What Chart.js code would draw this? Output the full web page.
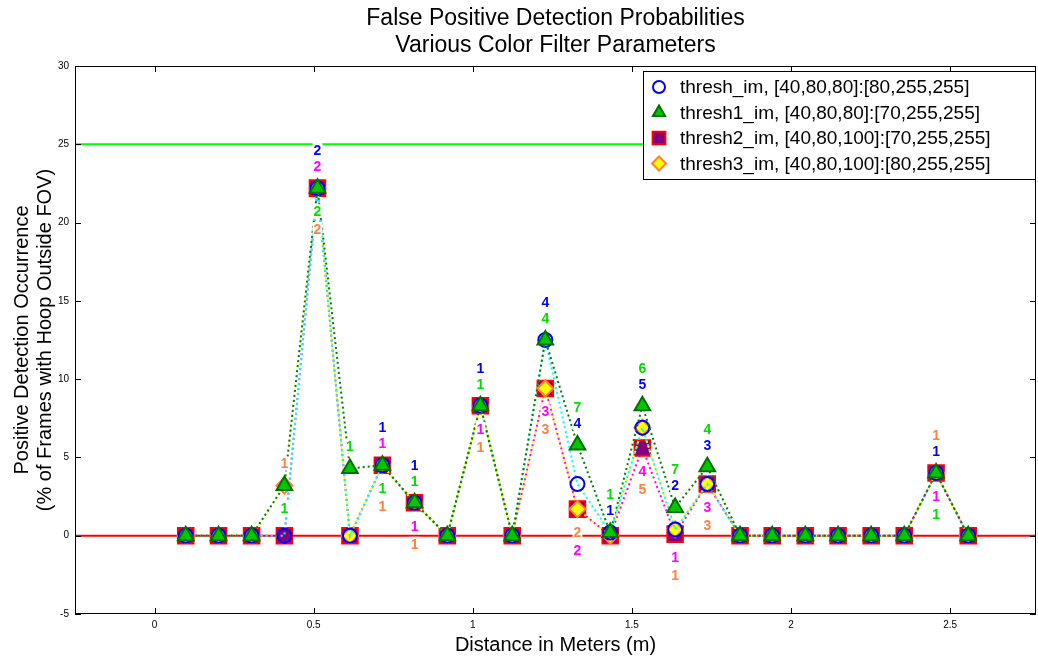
<!DOCTYPE html>
<html>
<head>
<meta charset="utf-8">
<script src="https://cdn.jsdelivr.net/npm/chart.js@4/dist/chart.umd.min.js"></script>
<style>
html,body{margin:0;padding:0;background:#fff;overflow:hidden}
#wrap{width:1038px;height:658px;position:relative}
#c{display:block}
</style>
</head>
<body>
<div id="wrap"><canvas id="c"></canvas></div>
<script>
// test positions (m)
distances = [0.098,0.201,0.305,0.408,0.512,0.614,0.716,0.817,0.920,1.024,1.124,1.228,1.329,1.432,1.533,1.636,1.737,1.840,1.941,2.045,2.148,2.252,2.356,2.456,2.557];

// % of frames with a false detection, one list per filter
threshIm  = [0,0,0,0,22.2,0,4.5,2.1,0,8.3,0,12.5,3.3,0.2,6.9,0.4,3.3,0,0,0,0,0,0,4.0,0];
thresh1Im = [0,0,0,3.2,22.2,4.3,4.5,2.1,0,8.3,0,12.5,5.8,0.2,8.3,1.8,4.4,0,0,0,0,0,0,4.0,0];
thresh2Im = [0,0,0,0,22.2,0,4.5,2.1,0,8.3,0,9.4,1.7,0,5.6,0.1,3.3,0,0,0,0,0,0,4.0,0];
thresh3Im = [0,0,0,3.2,22.2,0,4.5,2.1,0,8.3,0,9.4,1.7,0,6.9,0.4,3.3,0,0,0,0,0,0,4.0,0];

// frame counts written next to the markers (null = none)
N = null;
countIm  = [N,N,N,N,2,N,1,1,N,1,N,4,4,1,5,2,3,N,N,N,N,N,N,1,N];
count1Im = [N,N,N,1,2,1,1,1,N,1,N,4,7,1,6,7,4,N,N,N,N,N,N,1,N];
count2Im = [N,N,N,N,2,N,1,1,N,1,N,3,2,N,4,1,3,N,N,N,N,N,N,1,N];
count3Im = [N,N,N,1,2,N,1,1,N,1,N,3,2,N,5,1,3,N,N,N,N,N,N,1,N];

// where each count goes: -2/-1 above the highest marker, 1/2 below the lowest
slotIm  = [0,0,0,0,-2,0,-2,-2,0,-2,0,-2,-1,-1,-1,-1,-1,0,0,0,0,0,0,-1,0];
slot1Im = [0,0,0,1,1,-1,1,-1,0,-1,0,-1,-2,-2,-2,-2,-2,0,0,0,0,0,0,2,0];
slot2Im = [0,0,0,0,-1,0,-1,1,0,1,0,1,2,0,1,1,1,0,0,0,0,0,0,1,0];
slot3Im = [0,0,0,-1,2,0,2,2,0,2,0,2,1,0,2,2,2,0,0,0,0,0,0,-2,0];

seriesNames = [
  'thresh_im, [40,80,80]:[80,255,255]',
  'thresh1_im, [40,80,80]:[70,255,255]',
  'thresh2_im, [40,80,100]:[70,255,255]',
  'thresh3_im, [40,80,100]:[80,255,255]'
];
titleLines = ['False Positive Detection Probabilities', 'Various Color Filter Parameters'];
refLevels = [25, 0];

var FONT = '"Liberation Sans", Arial, Helvetica, sans-serif';
var NARROW = '"Liberation Sans Narrow", "Liberation Sans", Arial, sans-serif';

var values = [threshIm, thresh1Im, thresh2Im, thresh3Im];
var counts = [countIm, count1Im, count2Im, count3Im];
var slots = [slotIm, slot1Im, slot2Im, slot3Im];
var countColors = ['#0000ff', '#00dd00', '#ff00ff', '#ff8040'];
var refColors = ['#00ff00', '#ff0000'];

var styles = [
  {line: '#00ffff', pointStyle: 'circle', radius: 7, fill: 'rgba(0,0,0,0)', edge: '#0000ff', order: 1},
  {line: '#008000', pointStyle: 'triangle', radius: 9, fill: '#00c800', edge: '#007000', order: 0},
  {line: '#ff00ff', pointStyle: 'rect', radius: 11, fill: '#800080', edge: '#ff0000', order: 3},
  {line: '#ffff00', pointStyle: 'rectRot', radius: 8, fill: '#ffff00', edge: '#ff8030', order: 2}
];

function pts(vals) {
  return distances.map(function (d, i) { return {x: d, y: vals[i]}; });
}

var datasets = values.map(function (v, k) {
  var s = styles[k];
  return {
    label: seriesNames[k],
    data: pts(v),
    showLine: true,
    borderColor: s.line,
    borderWidth: 2,
    borderDash: [2, 3],
    pointStyle: s.pointStyle,
    pointRadius: s.radius,
    pointHoverRadius: s.radius,
    pointBackgroundColor: s.fill,
    pointBorderColor: s.edge,
    pointBorderWidth: 2,
    order: s.order
  };
});

function marker(ctx, k, x, y, r) {
  var s = styles[k];
  ctx.save();
  ctx.fillStyle = s.fill;
  ctx.strokeStyle = s.edge;
  ctx.lineWidth = 2;
  Chart.helpers.drawPoint(ctx, {pointStyle: s.pointStyle, radius: r, borderWidth: 2, rotation: 0}, x, y);
  ctx.restore();
}

var extras = {
  id: 'extras',
  beforeDatasetsDraw: function (chart) {
    var ctx = chart.ctx, a = chart.chartArea, y = chart.scales.y;
    ctx.save();
    ctx.lineWidth = 2;
    refLevels.forEach(function (v, k) {
      var py = y.getPixelForValue(v);
      ctx.strokeStyle = refColors[k];
      ctx.beginPath();
      ctx.moveTo(a.left, py);
      ctx.lineTo(a.right, py);
      ctx.stroke();
    });
    ctx.restore();
  },
  afterDatasetsDraw: function (chart) {
    var ctx = chart.ctx, x = chart.scales.x, y = chart.scales.y;
    var off = {'-2': -38, '-1': -22, '1': 23, '2': 41};
    ctx.save();
    ctx.font = 'bold 14px ' + FONT;
    ctx.textAlign = 'center';
    ctx.textBaseline = 'middle';
    distances.forEach(function (d, i) {
      var ks = [0, 1, 2, 3].filter(function (k) { return counts[k][i] !== null; });
      if (!ks.length) return;
      var top = Math.max.apply(null, ks.map(function (k) { return values[k][i]; }));
      var bot = Math.min.apply(null, ks.map(function (k) { return values[k][i]; }));
      var px = x.getPixelForValue(d);
      ks.forEach(function (k) {
        var s = slots[k][i];
        var py = (s < 0 ? y.getPixelForValue(top) : y.getPixelForValue(bot)) + off[s];
        var t = String(counts[k][i]);
        var w = ctx.measureText(t).width;
        ctx.fillStyle = '#fff';
        ctx.fillRect(px - w / 2 - 1, py - 7, w + 2, 14);
        ctx.fillStyle = countColors[k];
        ctx.fillText(t, px, py + 1);
      });
    });
    ctx.restore();
  },
  afterDraw: function (chart) {
    var ctx = chart.ctx, a = chart.chartArea, x = chart.scales.x, y = chart.scales.y;
    ctx.save();
    // title, centred over the axes
    ctx.fillStyle = '#000';
    ctx.font = '23px ' + FONT;
    ctx.textAlign = 'center';
    ctx.textBaseline = 'middle';
    titleLines.forEach(function (t, i) {
      ctx.fillText(t, (a.left + a.right) / 2, 19 + i * 27);
    });

    // axes box with inward ticks
    ctx.strokeStyle = '#000';
    ctx.lineWidth = 1;
    ctx.strokeRect(a.left + 0.5, a.top + 0.5, a.right - a.left - 1, a.bottom - a.top - 1);
    ctx.beginPath();
    x.ticks.forEach(function (t) {
      var px = Math.round(x.getPixelForValue(t.value)) + 0.5;
      ctx.moveTo(px, a.bottom); ctx.lineTo(px, a.bottom - 6);
      ctx.moveTo(px, a.top); ctx.lineTo(px, a.top + 6);
    });
    y.ticks.forEach(function (t) {
      var py = Math.round(y.getPixelForValue(t.value)) + 0.5;
      ctx.moveTo(a.left, py); ctx.lineTo(a.left + 6, py);
      ctx.moveTo(a.right, py); ctx.lineTo(a.right - 6, py);
    });
    ctx.stroke();

    // legend
    var lw = 392, lh = 108;
    var lx = a.right - lw - 1, ly = a.top + 5;
    ctx.fillStyle = '#fff';
    ctx.fillRect(lx, ly, lw, lh);
    ctx.strokeStyle = '#000';
    ctx.strokeRect(lx + 0.5, ly + 0.5, lw, lh);
    ctx.font = '19px ' + FONT;
    ctx.textAlign = 'left';
    ctx.textBaseline = 'middle';
    var legR = [6, 7, 9, 7];
    seriesNames.forEach(function (name, k) {
      var ry = ly + 16 + k * 25.5;
      marker(ctx, k, lx + 16, ry, legR[k]);
      ctx.fillStyle = '#000';
      ctx.fillText(name, lx + 37, ry + 1);
    });
    ctx.restore();
  }
};

new Chart(document.getElementById('c'), {
  type: 'scatter',
  data: {datasets: datasets},
  plugins: [extras],
  options: {
    responsive: true,
    maintainAspectRatio: false,
    animation: false,
    layout: {autoPadding: false, padding: {left: 0, right: 2, top: 66, bottom: 0}},
    plugins: {
      legend: {display: false},
      tooltip: {enabled: false},
      title: {display: false}
    },
    scales: {
      x: {
        type: 'linear',
        min: -0.25,
        max: 2.77,
        grid: {display: false, drawTicks: false},
        border: {display: false},
        ticks: {stepSize: 0.5, includeBounds: false, color: '#000', padding: 5,
                font: {family: NARROW, size: 10}, maxRotation: 0,
                callback: function (v) { return String(v); }},
        title: {display: true, text: 'Distance in Meters (m)', color: '#000',
                font: {family: FONT, size: 20, lineHeight: 1.2}, padding: {top: 0, bottom: 1}},
        afterFit: function (s) { s.height = 44; s.paddingLeft = 0; s.paddingRight = 0; }
      },
      y: {
        min: -5,
        max: 30,
        grid: {display: false, drawTicks: false},
        border: {display: false},
        ticks: {stepSize: 5, color: '#000', padding: 6, font: {family: NARROW, size: 10},
                callback: function (v) { return String(v); }},
        title: {display: true, text: ['Positive Detection Occurrence', '(% of Frames with Hoop Outside FOV)'],
                color: '#000', font: {family: FONT, size: 20, lineHeight: 1.15}, padding: {top: 11, bottom: 0}},
        afterFit: function (s) { s.width = 75; s.paddingTop = 0; s.paddingBottom = 0; }
      }
    }
  }
});
</script>
</body>
</html>
